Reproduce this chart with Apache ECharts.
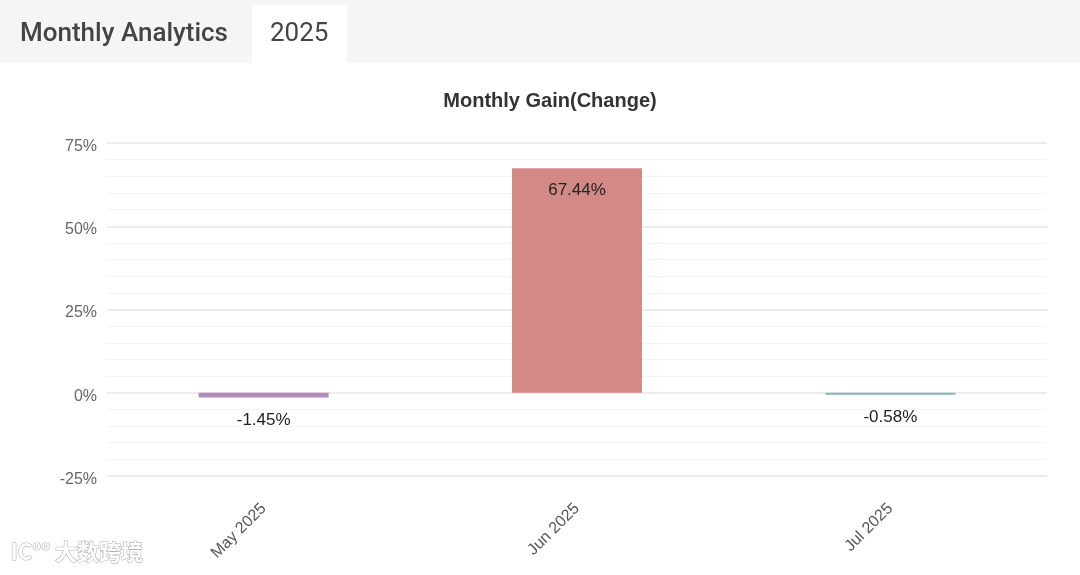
<!DOCTYPE html>
<html>
<head>
<meta charset="utf-8">
<script src="https://cdn.jsdelivr.net/npm/echarts@6/dist/echarts.min.js"></script>
<style>
html,body{margin:0;padding:0;background:#fff;}
#chart{width:1080px;height:575px;}
</style>
</head>
<body>
<div id="chart"></div>
<script>
const categories = ['May 2025', 'Jun 2025', 'Jul 2025'];
const gains = [-1.45, 67.44, -0.58];
const yTicks = [-25, 0, 25, 50, 75];

const barColors = ['#b08bba', '#d38a87', '#80b6b6'];
const chart = echarts.init(document.getElementById('chart'));
chart.setOption({
  animation: false,
  backgroundColor: '#ffffff',
  title: {
    text: 'Monthly Gain(Change)',
    left: 545, textAlign: 'center', top: 86,
    textStyle: {fontFamily: 'Liberation Sans', fontSize: 20, fontWeight: 'bold', color: '#333'}
  },
  graphic: [
    {type: 'rect', left: 0, top: 0, shape: {width: 1080, height: 63}, style: {fill: '#f5f5f5'}, z: -1},
    {type: 'rect', left: 252, top: 5, shape: {width: 95, height: 58}, style: {fill: '#ffffff'}, z: 0},
    {type: 'text', left: 20, top: 21, style: {text: 'Monthly Analytics', font: '500 26px Roboto', fill: '#444'}},
    {type: 'text', left: 270, top: 21, style: {text: '2025', font: '400 26px Roboto', fill: '#444'}},
    {type: 'text', left: 10, top: 540, style: {text: 'IC°° 大数跨境', font: 'bold 22px "Noto Sans CJK SC"', fill: '#ffffff', stroke: '#b5b5b5', lineWidth: 1.2}}
  ],
  grid: {left: 107, right: 33, top: 143, bottom: 99},
  xAxis: {
    type: 'category',
    data: categories,
    axisLine: {show: false},
    axisTick: {show: false},
    axisLabel: {rotate: 45, margin: 30, color: '#555', fontSize: 16, fontFamily: 'Liberation Sans'}
  },
  yAxis: {
    type: 'value',
    min: yTicks[0], max: yTicks[yTicks.length - 1], interval: 25,
    axisLine: {show: false},
    axisTick: {show: false},
    axisLabel: {
      color: '#666', fontSize: 16, fontFamily: 'Liberation Sans', margin: 10,
      formatter: v => '{a|' + v + '%}',
      rich: {a: {color: '#666', fontSize: 16, fontFamily: 'Liberation Sans', padding: [7, 0, 0, 0]}}
    },
    splitLine: {lineStyle: {color: '#e6e6e6', width: 1.5}},
    minorTick: {show: false, splitNumber: 5},
    minorSplitLine: {show: true, lineStyle: {color: '#f4f4f4', width: 1}}
  },
  series: [{
    type: 'bar',
    barWidth: 130,
    data: gains.map((v, i) => ({
      value: v,
      itemStyle: {color: barColors[i]},
      label: v >= 0
        ? {show: true, position: 'insideTop', distance: 14}
        : {show: true, position: 'bottom', distance: 14}
    })),
    label: {
      show: true, color: '#222', fontSize: 17, fontFamily: 'Liberation Sans',
      formatter: p => p.value.toFixed(2) + '%'
    }
  }]
});
</script>
</body>
</html>
